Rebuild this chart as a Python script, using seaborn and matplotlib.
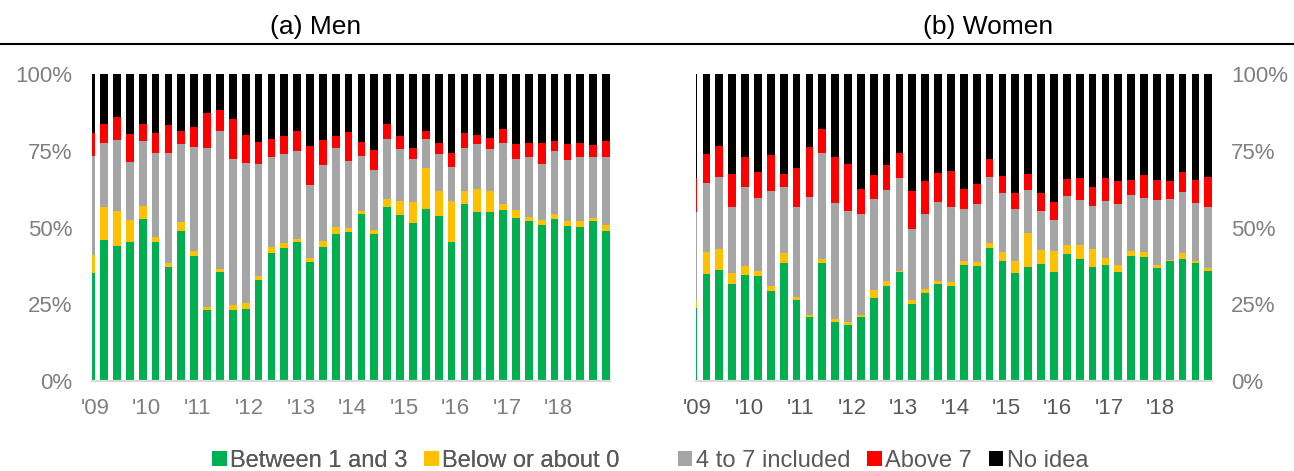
import numpy as np
import pandas as pd
import matplotlib
matplotlib.use("Agg")
import matplotlib.pyplot as plt
from matplotlib.patches import Patch
from matplotlib.lines import Line2D
import seaborn as sns

# ---------------------------------------------------------------------------
# Data: quarterly shares (%) of answers, men and women
# ---------------------------------------------------------------------------
quarters = [f"{y}Q{q}" for y in range(2009, 2020) for q in range(1, 5)][:41]
year_labels = ["'09", "'10", "'11", "'12", "'13", "'14", "'15", "'16", "'17", "'18"]
pct_ticks = [0, 25, 50, 75, 100]

categories = ["Between 1 and 3", "Below or about 0", "4 to 7 included", "Above 7", "No idea"]
palette = ["#00B050", "#FFC000", "#A5A5A5", "#FF0000", "#000000"]

men_between_1_3 = [35.1, 45.9, 44.1, 45.3, 52.7, 45.3, 37.1, 49.0, 40.7, 23.0,
                   35.5, 23.0, 23.3, 32.9, 41.8, 43.3, 45.2, 38.8, 43.6, 47.9,
                   48.6, 54.5, 47.9, 56.8, 54.1, 51.6, 55.9, 53.6, 45.4, 57.7,
                   55.0, 55.0, 55.7, 53.2, 52.2, 50.9, 52.9, 50.6, 50.1, 52.0,
                   48.8]
men_below_0 = [5.9, 10.9, 11.4, 7.0, 4.3, 1.5, 1.2, 2.7, 1.5, 1.1,
               1.1, 1.8, 2.0, 1.3, 2.0, 1.8, 1.2, 1.3, 2.0, 2.4,
               1.4, 0.8, 1.3, 2.5, 4.6, 6.8, 13.4, 8.3, 13.3, 4.3,
               7.4, 7.0, 2.0, 2.6, 1.1, 1.4, 1.5, 1.6, 1.9, 1.2,
               2.0]
men_4_to_7 = [32.4, 20.8, 23.0, 19.0, 21.1, 27.6, 35.9, 25.4, 33.9, 51.7,
              44.7, 47.4, 45.8, 36.5, 29.3, 28.8, 28.6, 23.6, 24.9, 25.6,
              21.8, 18.1, 19.5, 19.6, 17.0, 14.0, 9.4, 12.0, 11.1, 14.0,
              14.7, 13.7, 19.7, 16.5, 19.6, 18.3, 20.6, 19.8, 20.9, 19.7,
              22.3]
men_above_7 = [7.3, 6.0, 7.4, 9.2, 5.5, 6.5, 9.2, 4.2, 6.5, 11.4,
               7.0, 13.0, 9.1, 7.2, 5.6, 6.0, 6.3, 12.8, 8.0, 4.0,
               9.3, 4.6, 6.4, 4.7, 4.1, 3.4, 2.6, 3.7, 4.6, 4.7,
               3.1, 3.6, 4.7, 4.8, 4.6, 6.8, 3.1, 5.1, 4.5, 3.9,
               5.2]
men_no_idea = [19.3, 16.4, 14.1, 19.5, 16.4, 19.1, 16.6, 18.7, 17.4, 12.8,
               11.7, 14.8, 19.8, 22.1, 21.3, 20.1, 18.7, 23.5, 21.5, 20.1,
               18.9, 22.0, 24.9, 16.4, 20.2, 24.2, 18.7, 22.4, 25.6, 19.3,
               19.8, 20.7, 17.9, 22.9, 22.5, 22.6, 21.9, 22.9, 22.6, 23.2,
               21.7]

women_between_1_3 = [23.7, 34.9, 36.3, 31.7, 34.4, 34.2, 29.4, 38.3, 26.4, 21.0,
                     38.3, 19.2, 18.2, 20.7, 27.1, 30.9, 35.5, 25.1, 28.8, 31.6,
                     30.9, 37.8, 37.6, 43.2, 39.2, 35.3, 37.2, 38.1, 35.5, 41.4,
                     39.7, 37.2, 37.8, 35.6, 40.8, 40.3, 36.9, 39.1, 39.8, 38.3,
                     35.7]
women_below_0 = [2.5, 7.0, 6.8, 3.6, 3.2, 1.5, 1.4, 3.3, 1.0, 0.6,
                 1.3, 1.0, 1.1, 0.8, 2.7, 1.7, 0.4, 1.3, 1.1, 1.0,
                 1.2, 1.3, 1.3, 1.9, 2.9, 3.8, 11.1, 4.6, 6.7, 2.8,
                 4.5, 5.8, 2.2, 2.2, 1.7, 1.8, 0.8, 0.2, 1.8, 0.9,
                 1.0]
women_4_to_7 = [29.0, 22.7, 23.5, 21.4, 25.7, 23.9, 31.2, 21.5, 29.2, 38.4,
                34.8, 37.7, 36.2, 32.8, 29.4, 29.7, 30.1, 23.0, 24.4, 25.7,
                24.5, 17.0, 18.8, 21.2, 19.0, 16.9, 13.9, 12.7, 10.2, 16.1,
                14.8, 14.1, 18.6, 19.7, 18.1, 17.4, 21.3, 20.1, 20.0, 18.9,
                19.9]
women_above_7 = [11.0, 9.2, 9.9, 10.6, 9.8, 8.4, 11.7, 4.4, 12.7, 16.1,
                 7.6, 15.0, 15.2, 8.2, 7.8, 8.2, 8.4, 12.4, 10.7, 9.5,
                 11.9, 6.4, 6.4, 6.0, 5.8, 5.3, 5.3, 5.7, 5.8, 5.4,
                 7.2, 6.2, 7.4, 7.6, 4.8, 7.6, 6.5, 5.9, 6.5, 7.5,
                 9.7]
women_no_idea = [33.8, 26.2, 23.5, 32.7, 26.9, 32.0, 26.3, 32.5, 30.7, 23.9,
                 18.0, 27.1, 29.3, 37.5, 33.0, 29.5, 25.6, 38.2, 35.0, 32.2,
                 31.5, 37.5, 35.9, 27.7, 33.1, 38.7, 32.5, 38.9, 41.8, 34.3,
                 33.8, 36.7, 34.0, 34.9, 34.6, 32.9, 34.5, 34.7, 31.9, 34.4,
                 33.7]

men = pd.DataFrame(dict(zip(categories, [men_between_1_3, men_below_0, men_4_to_7,
                                         men_above_7, men_no_idea])), index=quarters)
women = pd.DataFrame(dict(zip(categories, [women_between_1_3, women_below_0, women_4_to_7,
                                           women_above_7, women_no_idea])), index=quarters)

# ---------------------------------------------------------------------------
# Styling
# ---------------------------------------------------------------------------
sns.set_theme(style="white")
plt.rcParams["font.family"] = ["Liberation Sans", "DejaVu Sans"]

W, H = 1294, 471
fig = plt.figure(figsize=(W / 100, H / 100), dpi=100)


def px_axes(x0, x1, y_top, y_bot):
    return fig.add_axes([x0 / W, 1 - y_bot / H, (x1 - x0) / W, (y_bot - y_top) / H])


def draw_panel(ax, df, xlim, side, xtick_color):
    cum = df.cumsum(axis=1)
    # draw cumulative totals from the top category down so each layer shows its share
    for name, color in reversed(list(zip(categories, palette))):
        sns.barplot(x=quarters, y=cum[name].values, order=quarters, color=color,
                    saturation=1, width=0.6, linewidth=0, errorbar=None, ax=ax)
    ax.set_xlim(*xlim)
    ax.set_ylim(0, 100)
    ax.set_xlabel("")
    ax.set_ylabel("")
    ax.set_xticks([4 * k + 0.3 for k in range(len(year_labels))])
    ax.set_xticklabels(year_labels, fontsize=16, color=xtick_color)
    ax.set_yticks(pct_ticks)
    ax.set_yticklabels([f"{v}%" for v in pct_ticks], fontsize=16, color="#808080")
    if side == "right":
        ax.yaxis.tick_right()
    ax.tick_params(axis="both", length=0)
    ax.tick_params(axis="y", pad=14)
    ax.tick_params(axis="x", pad=12)
    for s in ["top", "left", "right"]:
        ax.spines[s].set_visible(False)
    ax.spines["bottom"].set_color("#D9D9D9")
    ax.spines["bottom"].set_linewidth(1.6)
    ax.grid(False)


ax_m = px_axes(92, 610, 74, 381)
ax_w = px_axes(696, 1211.7, 74, 381)
draw_panel(ax_m, men, (0.06, 40.31), "left", "#7F7F7F")
draw_panel(ax_w, women, (0.19, 40.26), "right", "#595959")

# panel titles and separator rule
fig.text(316 / W, 1 - 27 / H, "(a) Men", ha="center", va="center", fontsize=19, color="black")
fig.text(988 / W, 1 - 27 / H, "(b) Women", ha="center", va="center", fontsize=19, color="black")
fig.add_artist(Line2D([0, 1], [1 - 43.5 / H, 1 - 43.5 / H], transform=fig.transFigure,
                      color="black", linewidth=1.5))

# legend, split into two groups
handles = [Patch(facecolor=c, edgecolor="none") for c in palette]
leg_kw = dict(frameon=False, fontsize=17, handlelength=0.62, handleheight=0.62,
              handletextpad=0.15, columnspacing=0.7, labelcolor="#595959",
              borderaxespad=0, borderpad=0)
leg1 = fig.legend(handles[:2], categories[:2], ncol=2, loc="center",
                  bbox_to_anchor=(416 / W, 1 - 461 / H), **leg_kw)
fig.add_artist(leg1)
fig.legend(handles[2:], categories[2:], ncol=3, loc="center",
           bbox_to_anchor=(883 / W, 1 - 461 / H), **leg_kw)

fig.savefig("out.png", dpi=100)
